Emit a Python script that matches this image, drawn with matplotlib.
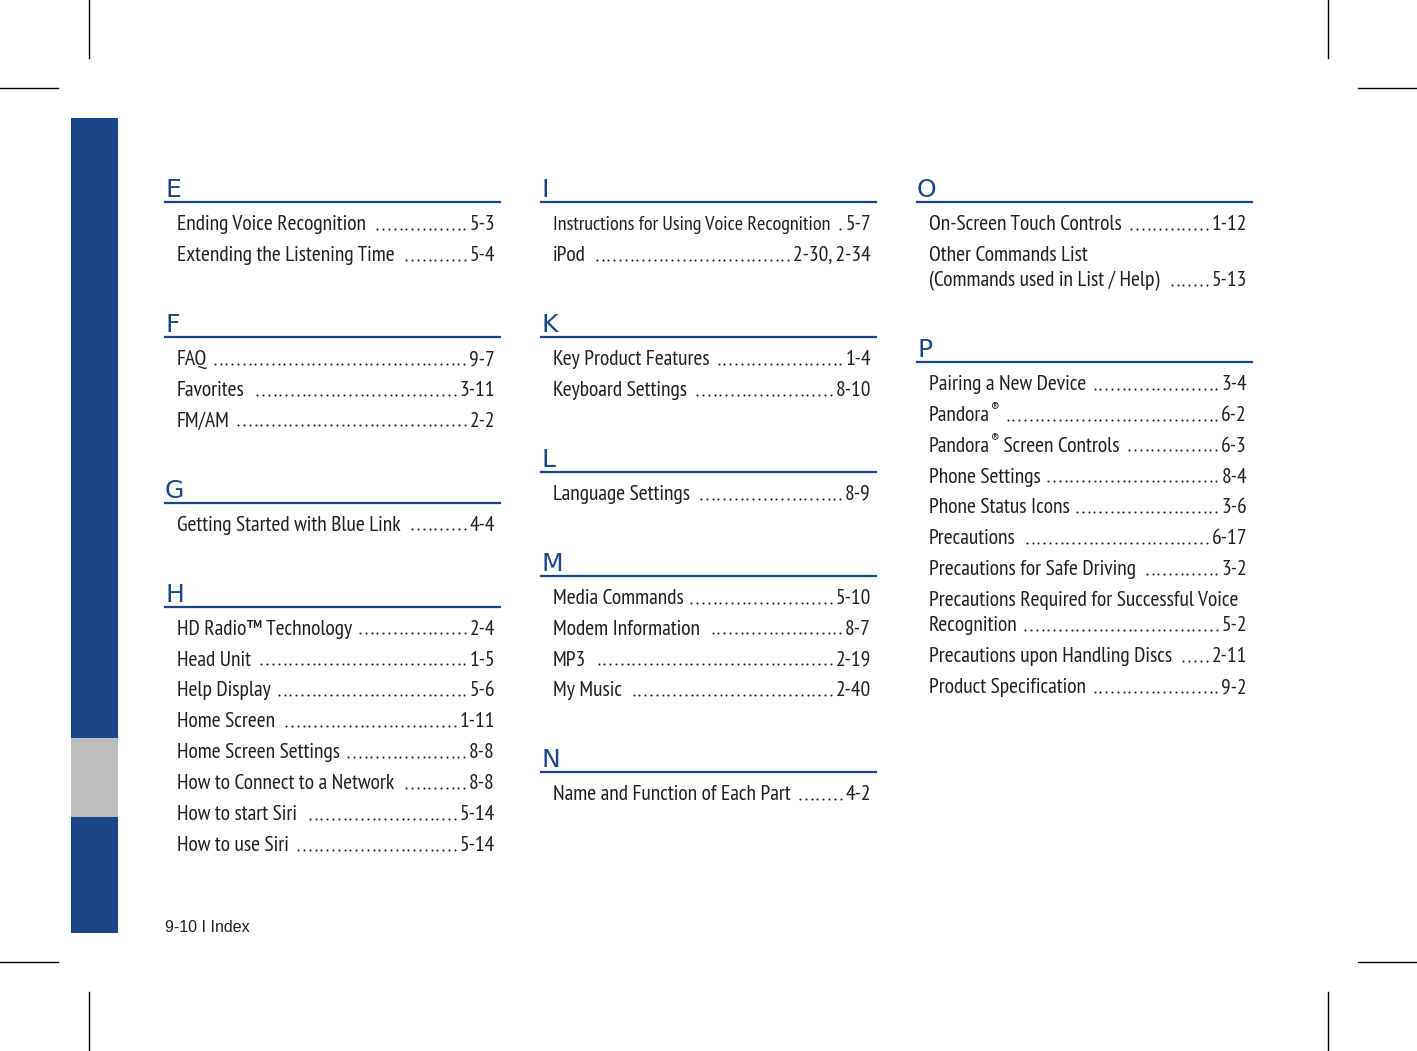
import matplotlib
matplotlib.use('Agg')
import matplotlib.pyplot as plt
import numpy as np

# Index data, one list per column: (letter, [(label, page), ...])
col1 = [
    ('E', [('Ending Voice Recognition', '5-3'),
           ('Extending the Listening Time', '5-4')]),
    ('F', [('FAQ', '9-7'),
           ('Favorites', '3-11'),
           ('FM/AM', '2-2')]),
    ('G', [('Getting Started with Blue Link', '4-4')]),
    ('H', [('HD Radio™ Technology', '2-4'),
           ('Head Unit', '1-5'),
           ('Help Display', '5-6'),
           ('Home Screen', '1-11'),
           ('Home Screen Settings', '8-8'),
           ('How to Connect to a Network', '8-8'),
           ('How to start Siri', '5-14'),
           ('How to use Siri', '5-14')]),
]
col2 = [
    ('I', [('Instructions for Using Voice Recognition', '5-7'),
           ('iPod', '2-30, 2-34')]),
    ('K', [('Key Product Features', '1-4'),
           ('Keyboard Settings', '8-10')]),
    ('L', [('Language Settings', '8-9')]),
    ('M', [('Media Commands', '5-10'),
           ('Modem Information', '8-7'),
           ('MP3', '2-19'),
           ('My Music', '2-40')]),
    ('N', [('Name and Function of Each Part', '4-2')]),
]
col3 = [
    ('O', [('On-Screen Touch Controls', '1-12'),
           ('Other Commands List\n(Commands used in List / Help)', '5-13')]),
    ('P', [('Pairing a New Device', '3-4'),
           ('Pandora®', '6-2'),
           ('Pandora® Screen Controls', '6-3'),
           ('Phone Settings', '8-4'),
           ('Phone Status Icons', '3-6'),
           ('Precautions', '6-17'),
           ('Precautions for Safe Driving', '3-2'),
           ('Precautions Required for Successful Voice\nRecognition', '5-2'),
           ('Precautions upon Handling Discs', '2-11'),
           ('Product Specification', '9-2')]),
]
footer = '9-10 I Index'

BLUE = '#1b4689'
TEXT = '#231f20'
W, H = 1417, 1051
NARROW = ['PT Sans Narrow', 'Roboto Condensed', 'Liberation Sans', 'DejaVu Sans']

fig = plt.figure(figsize=(W / 100, H / 100), dpi=100)
ax = fig.add_axes([0, 0, 1, 1])
ax.set_xlim(0, W)
ax.set_ylim(H, 0)
ax.axis('off')
r = fig.canvas.get_renderer()
inv = ax.transData.inverted()

def right_of(t):
    return inv.transform(t.get_window_extent(r).extents[2:])[0]

def left_of(t):
    return inv.transform(t.get_window_extent(r).extents[:2])[0]

# crop marks
for x in (89, 1328):
    ax.plot([x, x], [0, 58], color='black', lw=1)
    ax.plot([x, x], [992, H], color='black', lw=1)
for y in (88, 962):
    ax.plot([0, 58], [y, y], color='black', lw=1)
    ax.plot([1358, W], [y, y], color='black', lw=1)

# side bar
ax.add_patch(plt.Rectangle((71, 118), 47, 815, color=BLUE, lw=0))
ax.add_patch(plt.Rectangle((71, 738), 47, 79, color='#bdbdbd', lw=0))

ax.text(165, 932, footer, fontsize=11.5, color=TEXT,
        family=['Liberation Sans', 'DejaVu Sans'], va='baseline')

FS = 15.5
body = dict(color=TEXT, family=NARROW, va='baseline')
leaders = []

def draw_label(x, y, s):
    parts = s.split('®')
    t = None
    for i, part in enumerate(parts):
        if part:
            t = ax.text(x, y, part, fontsize=FS, **body)
            x = right_of(t)
        if i < len(parts) - 1:
            t = ax.text(x + 0.5, y - 8, '®', fontsize=10.5, **body)
            x = right_of(t)
    return t

def draw_column(sections, x0):
    y = 197
    for letter, entries in sections:
        ax.text(x0, y, letter, fontsize=18, color=BLUE, family='DejaVu Sans', va='baseline')
        ax.plot([x0, x0 + 335], [y + 5, y + 5], color=BLUE, lw=1.6)
        yb = y + 33
        for label, page in entries:
            lines = label.split('\n')
            for i, ln in enumerate(lines):
                t = draw_label(x0 + 12, yb, ln)
                if i < len(lines) - 1:
                    yb += 25
            p = ax.text(x0 + 330, yb, page, ha='right', fontsize=FS, **body)
            # squeeze labels that would run into the page number
            fs = FS
            while right_of(t) > left_of(p) - 12 and fs > 9:
                fs -= 0.25
                t.set_fontsize(fs)
            leaders.append((t, p, yb))
            yb += 30.9
        y = yb - 30.9 + 71

draw_column(col1, 165)
draw_column(col2, 541)
draw_column(col3, 917)

# dot leaders, measured from the rendered text
for t, p, yb in leaders:
    xa = right_of(t)
    xb = left_of(p)
    end = xb - 5
    xs = np.arange(end, xa + 7, -5.8)
    ax.scatter(xs, np.full(len(xs), yb - 1.2), s=2.2, color=TEXT, lw=0)

fig.savefig('out.png', dpi=100)
